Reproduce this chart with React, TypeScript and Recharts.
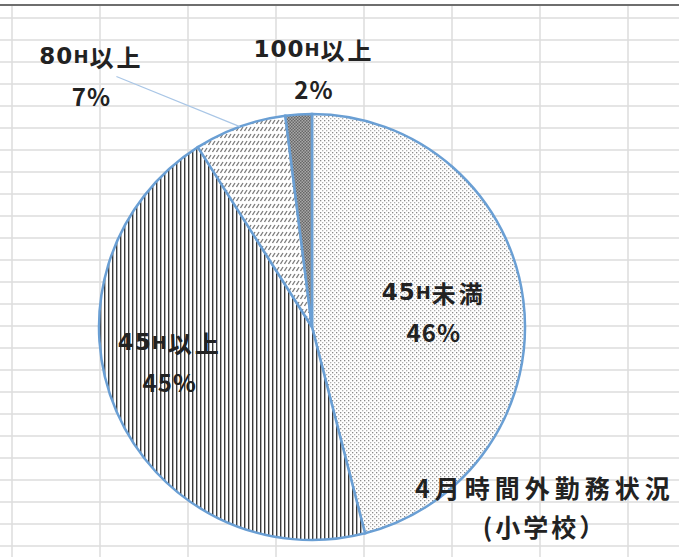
import React from "react";
import { PieChart, Pie, Cell } from "recharts";

const categories = ["45H未満", "45H以上", "80H以上", "100H以上"];
const shares = [46, 45, 7, 2];
const patterns = ["dots", "vlines", "dashes", "check"];
const titleLines = ["4月時間外勤務状況", "(小学校）"];

const data = categories.map((name, i) => ({ name, value: shares[i] }));

// label placement tweaks (radius factor + nudge), per slice
const labelPlace = [
  { rf: 0.6, dx: -5, dy: 1, leader: false },
  { rf: 0.6, dx: -25, dy: -16, leader: false },
  { rf: 1.2, dx: -134, dy: -11, leader: true },
  { rf: 1.2, dx: 18, dy: -3, leader: false },
];

const W = 679;
const H = 557;
const FONT = "'Noto Sans CJK JP', 'Noto Sans', sans-serif";
const LATIN = "'DejaVu Sans', sans-serif";
const RAD = Math.PI / 180;

function NameText({ text, x, y }: { text: string; x: number; y: number }) {
  // digits are wide and the H a bit smaller, like the original
  const parts = text.split(/(\d+|H)/).filter((p) => p !== "");
  return (
    <text x={x} y={y} textAnchor="middle" dominantBaseline="central" fontFamily={FONT} fontSize={24} fontWeight="bold" fill="#222">
      {parts.map((p, i) =>
        p === "H" ? (
          <tspan key={i} fontFamily={LATIN} fontSize={18} letterSpacing={1}>H</tspan>
        ) : /\d/.test(p) ? (
          <tspan key={i} fontFamily={LATIN} fontSize={23} letterSpacing={1}>{p}</tspan>
        ) : (
          <tspan key={i} letterSpacing={3}>{p}</tspan>
        )
      )}
    </text>
  );
}

function renderLabel(props: any) {
  const { cx, cy, midAngle, outerRadius, index, name, percent } = props;
  const lp = labelPlace[index];
  const r = outerRadius * lp.rf;
  const x = cx + r * Math.cos(-midAngle * RAD) + lp.dx;
  const y = cy + r * Math.sin(-midAngle * RAD) + lp.dy;
  const ex = cx + outerRadius * Math.cos(-midAngle * RAD);
  const ey = cy + outerRadius * Math.sin(-midAngle * RAD);
  return (
    <g key={`lbl-${index}`}>
      {lp.leader && <line x1={x + 25} y1={y + 1} x2={ex} y2={ey} stroke="#a9c6e6" strokeWidth={1.2} />}
      <NameText text={name} x={x} y={y - 19.5} />
      <text x={x} y={y + 19.5} textAnchor="middle" dominantBaseline="central" fontFamily={FONT} fontSize={24} fontWeight="bold" fill="#222" letterSpacing={1}>
        {`${Math.round(percent * 100)}%`}
      </text>
    </g>
  );
}

function Background() {
  const hs: number[] = [];
  for (let y = 18; y < H; y += 22) hs.push(y);
  const vs: number[] = [];
  for (let x = 12; x < W; x += 88) vs.push(x);
  return (
    <svg width={W} height={H} style={{ position: "absolute", left: 0, top: 0 }}>
      <defs>
        <pattern id="dots" width="4" height="4" patternUnits="userSpaceOnUse">
          <rect width="4" height="4" fill="#fff" />
          <rect x="0" y="0" width="1.3" height="1.3" fill="#8a8a8a" />
          <rect x="2" y="2" width="1.3" height="1.3" fill="#b0b0b0" />
        </pattern>
        <pattern id="vlines" width="4" height="4" patternUnits="userSpaceOnUse">
          <rect width="4" height="4" fill="#fff" />
          <rect x="0" y="0" width="1.4" height="4" fill="#3a3a3a" />
        </pattern>
        <pattern id="dashes" width="4" height="7" patternUnits="userSpaceOnUse">
          <rect width="4" height="7" fill="#fff" />
          <line x1="0.5" y1="5" x2="3" y2="1" stroke="#7a7a7a" strokeWidth="1.3" />
        </pattern>
        <pattern id="check" width="3" height="3" patternUnits="userSpaceOnUse">
          <rect width="3" height="3" fill="#a8a8a8" />
          <rect x="0" y="0" width="1.5" height="1.5" fill="#666" />
          <rect x="1.5" y="1.5" width="1.5" height="1.5" fill="#666" />
        </pattern>
      </defs>
      <rect width={W} height={H} fill="#fff" />
      {hs.map((y) => (
        <line key={`h${y}`} x1={0} x2={W} y1={y} y2={y} stroke="#dcdcdc" strokeWidth={1.5} />
      ))}
      {vs.map((x) => (
        <line key={`v${x}`} x1={x} x2={x} y1={5} y2={H} stroke="#dcdcdc" strokeWidth={1.5} />
      ))}
      <line x1={0} x2={W} y1={5} y2={5} stroke="#6e6e6e" strokeWidth={2} />
    </svg>
  );
}

const titleSpacing = [5, 3];

export default function App() {
  return (
    <div style={{ position: "relative", width: W, height: H, overflow: "hidden" }}>
      <style>{"body{margin:0}"}</style>
      <Background />
      <div style={{ position: "absolute", left: 0, top: 0 }}>
        <PieChart width={W} height={H} margin={{ top: 0, right: 0, bottom: 0, left: 0 }}>
          <Pie
            data={data}
            dataKey="value"
            nameKey="name"
            cx={312}
            cy={327}
            outerRadius={213}
            startAngle={90}
            endAngle={-270}
            stroke="#6a9fd4"
            strokeWidth={2.5}
            label={renderLabel}
            labelLine={false}
            isAnimationActive={false}
          >
            {data.map((d, i) => (
              <Cell key={d.name} fill={`url(#${patterns[i]})`} />
            ))}
          </Pie>
        </PieChart>
      </div>
      <svg width={W} height={H} style={{ position: "absolute", left: 0, top: 0, pointerEvents: "none" }}>
        {titleLines.map((t, i) => (
          <text key={t} x={545} y={487 + i * 39} textAnchor="middle" dominantBaseline="central" fontFamily={FONT} fontSize={25} fontWeight="bold" fill="#222" letterSpacing={titleSpacing[i]}>
            {t}
          </text>
        ))}
      </svg>
    </div>
  );
}
